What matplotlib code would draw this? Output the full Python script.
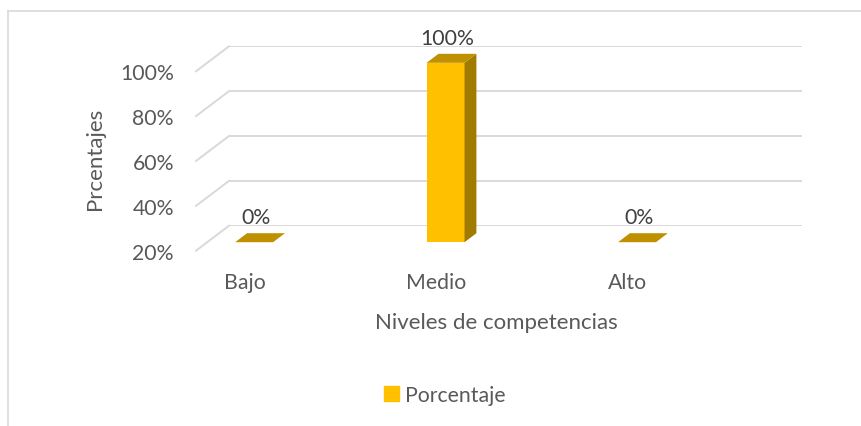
import matplotlib
matplotlib.use("Agg")
import matplotlib.pyplot as plt
from matplotlib.patches import Polygon, Patch
from matplotlib.lines import Line2D

# Datos del grafico
categorias = ["Bajo", "Medio", "Alto"]
porcentajes = [0, 100, 0]
etiquetas = ["0%", "100%", "0%"]
ticks = [20, 40, 60, 80, 100]
tick_labels = ["20%", "40%", "60%", "80%", "100%"]
serie = "Porcentaje"

W, H = 861, 427
plt.rcParams['font.family'] = ['Lato', 'DejaVu Sans']
gris = "#595959"
linea = "#D9D9D9"
fs = 15.3

fig = plt.figure(figsize=(W / 100, H / 100), dpi=100)

# pared del fondo (plano de las lineas de cuadricula)
left, right, top, bottom = 229, 802, 47.3, 226.7
ax = fig.add_axes([left / W, 1 - bottom / H, (right - left) / W, (bottom - top) / H])
ax.set_xlim(-0.245, 2.748)
ax.set_ylim(ticks[0], ticks[-1])
ax.axis("off")

# desplazamiento oblicuo por unidad de profundidad (pixeles, y hacia arriba)
DX, DY = -33, -25


def punto(x, y, d):
    # convierte dato + profundidad a coordenadas de pantalla
    px, py = ax.transData.transform((x, y))
    return (px + DX * d, py + DY * d)


xmin, xmax = ax.get_xlim()

# lineas de cuadricula: pared + piso oblicuo
for t in ticks:
    ax.plot([xmin, xmax], [t, t], color=linea, lw=1.4, solid_capstyle="butt")
    p0 = punto(xmin, t, 0)
    p1 = punto(xmin, t, 1)
    fig.add_artist(Line2D([p0[0], p1[0]], [p0[1], p1[1]], color=linea, lw=1.4, transform=None))

# etiquetas del eje y
for t, lab in zip(ticks, tick_labels):
    px, py = punto(xmin, t, 1)
    fig.text((px - 22) / W, (py - 2) / H, lab, ha="right", va="center", fontsize=fs, color=gris)

# barras 3D
ancho = 0.198
d_front, d_back = 0.66, 0.30
frente = "#FFC000"
tapa = "#BF9000"
lado = "#A17A00"
base = ticks[0]
for i, v in enumerate(porcentajes):
    x0, x1 = i - ancho / 2, i + ancho / 2
    h = max(v, base)
    if v > base:
        cara = [punto(x0, base, d_front), punto(x1, base, d_front),
                punto(x1, h, d_front), punto(x0, h, d_front)]
        fig.add_artist(Polygon(cara, closed=True, facecolor=frente, edgecolor="none", transform=None))
        costado = [punto(x1, base, d_front), punto(x1, base, d_back),
                   punto(x1, h, d_back), punto(x1, h, d_front)]
        fig.add_artist(Polygon(costado, closed=True, facecolor=lado, edgecolor="none", transform=None))
    arriba = [punto(x0, h, d_front), punto(x1, h, d_front),
              punto(x1, h, d_back), punto(x0, h, d_back)]
    fig.add_artist(Polygon(arriba, closed=True, facecolor=tapa, edgecolor="none", transform=None))
    # etiqueta de datos
    px, py = punto(i, h, d_front)
    fig.text((px + 2) / W, (py + 25) / H, etiquetas[i], ha="center", va="center",
             fontsize=fs, color="#404040")
    # etiqueta de categoria
    cx, cy = punto(i, base, 1)
    fig.text((cx + 2) / W, (cy - 31) / H, categorias[i], ha="center", va="center",
             fontsize=fs, color=gris)

# titulos de ejes
fig.text(496 / W, 1 - 323 / H, "Niveles de competencias", ha="center", va="center",
         fontsize=16, color=gris)
fig.text(95 / W, 1 - 159 / H, "Prcentajes", ha="center", va="center", rotation=90,
         fontsize=16, color=gris)

# leyenda
fig.legend(handles=[Patch(color=frente, label=serie)], loc="center",
           bbox_to_anchor=(445 / W, 1 - 396 / H), frameon=False, fontsize=fs,
           handlelength=0.7, handleheight=0.7, handletextpad=0.3, labelcolor=gris)

# borde del area del grafico
fig.add_artist(Line2D([8 / W, 8 / W], [0, 1 - 12 / H], color=linea, lw=1.2))
fig.add_artist(Line2D([8 / W, 1], [1 - 12 / H, 1 - 12 / H], color=linea, lw=1.2))

fig.savefig("out.png", dpi=100)
